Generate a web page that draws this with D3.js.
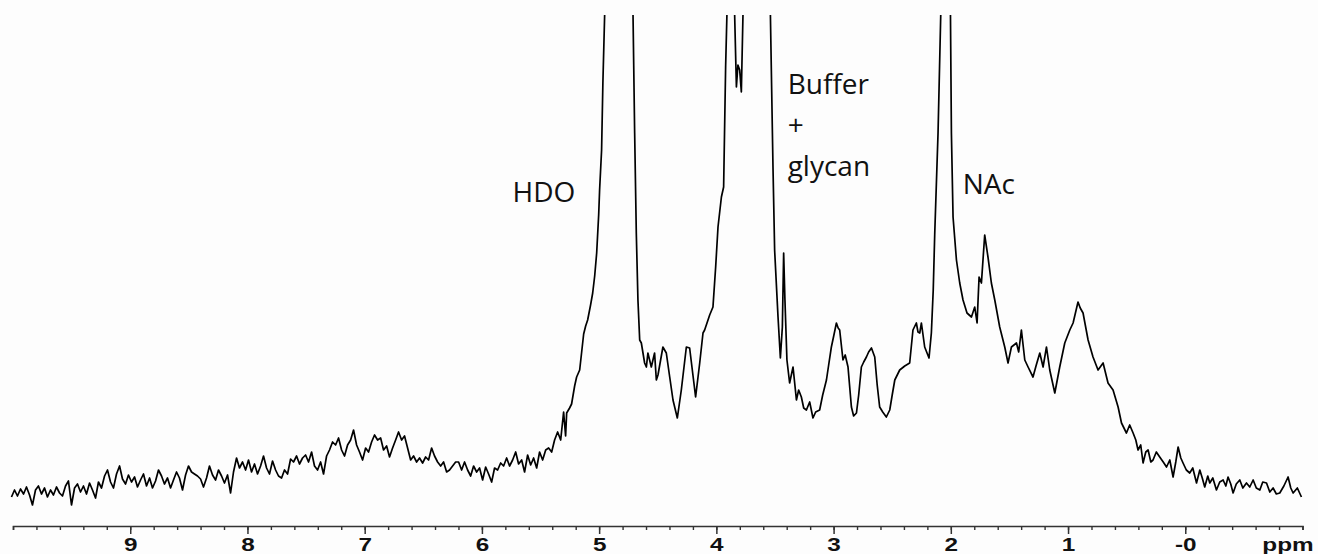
<!DOCTYPE html>
<html>
<head>
<meta charset="utf-8">
<script src="https://cdn.jsdelivr.net/npm/d3@7"></script>
<style>
  body { margin: 0; background: #fdfdfd; }
  svg { display: block; }
</style>
</head>
<body>
<div class="spectrum"></div>
<script>
// 1H NMR spectrum, chemical shift (ppm) vs intensity (arbitrary units)
var ppm = [
  10.013, 9.987, 9.962, 9.936, 9.910, 9.885, 9.859, 9.834, 9.808, 9.783,
  9.757, 9.731, 9.706, 9.680, 9.655, 9.629, 9.603, 9.578, 9.552, 9.527,
  9.501, 9.475, 9.450, 9.424, 9.399, 9.373, 9.347, 9.322, 9.296, 9.271,
  9.245, 9.219, 9.194, 9.168, 9.143, 9.117, 9.091, 9.066, 9.040, 9.015,
  8.989, 8.963, 8.938, 8.912, 8.887, 8.861, 8.835, 8.810, 8.784, 8.759,
  8.733, 8.708, 8.682, 8.656, 8.631, 8.605, 8.580, 8.554, 8.528, 8.503,
  8.477, 8.452, 8.426, 8.400, 8.375, 8.349, 8.324, 8.298, 8.272, 8.247,
  8.221, 8.196, 8.170, 8.144, 8.119, 8.093, 8.068, 8.042, 8.016, 7.991,
  7.965, 7.940, 7.914, 7.888, 7.863, 7.837, 7.812, 7.786, 7.760, 7.735,
  7.709, 7.684, 7.658, 7.632, 7.607, 7.581, 7.556, 7.530, 7.504, 7.479,
  7.453, 7.428, 7.402, 7.376, 7.351, 7.325, 7.300, 7.274, 7.248, 7.223,
  7.197, 7.172, 7.146, 7.120, 7.095, 7.069, 7.044, 7.018, 6.992, 6.967,
  6.941, 6.916, 6.890, 6.864, 6.839, 6.813, 6.788, 6.762, 6.736, 6.711,
  6.685, 6.660, 6.634, 6.608, 6.583, 6.557, 6.532, 6.506, 6.480, 6.455,
  6.429, 6.404, 6.378, 6.352, 6.327, 6.301, 6.276, 6.250, 6.224, 6.199,
  6.173, 6.148, 6.122, 6.096, 6.071, 6.045, 6.020, 5.994, 5.968, 5.943,
  5.917, 5.892, 5.866, 5.840, 5.815, 5.789, 5.764, 5.738, 5.712, 5.687,
  5.661, 5.636, 5.610, 5.584, 5.559, 5.533, 5.508, 5.482, 5.456, 5.431,
  5.405, 5.380, 5.354, 5.328, 5.303, 5.286, 5.277, 5.252, 5.235, 5.209,
  5.192, 5.166, 5.149, 5.132, 5.115, 5.098, 5.073, 5.055, 5.038, 5.021,
  5.004, 4.996, 4.979, 4.968, 4.953, 4.894, 4.834, 4.775, 4.712, 4.697,
  4.683, 4.669, 4.654, 4.640, 4.612, 4.597, 4.584, 4.555, 4.527, 4.512,
  4.498, 4.456, 4.427, 4.398, 4.370, 4.333, 4.299, 4.256, 4.228, 4.177,
  4.142, 4.114, 4.100, 4.057, 4.029, 4.006, 3.986, 3.957, 3.938, 3.921,
  3.910, 3.887, 3.853, 3.844, 3.829, 3.816, 3.801, 3.787, 3.773, 3.716,
  3.656, 3.596, 3.539, 3.517, 3.503, 3.474, 3.454, 3.437, 3.426, 3.415,
  3.398, 3.375, 3.346, 3.317, 3.298, 3.275, 3.255, 3.232, 3.204, 3.176,
  3.153, 3.119, 3.093, 3.061, 3.042, 3.019, 2.999, 2.976, 2.961, 2.948,
  2.920, 2.901, 2.877, 2.848, 2.829, 2.805, 2.786, 2.763, 2.743, 2.720,
  2.701, 2.677, 2.649, 2.628, 2.607, 2.581, 2.550, 2.521, 2.500, 2.478,
  2.457, 2.436, 2.393, 2.351, 2.323, 2.294, 2.280, 2.265, 2.251, 2.223,
  2.186, 2.166, 2.150, 2.137, 2.109, 2.086, 2.064, 2.043, 2.022, 2.003,
  1.995, 1.981, 1.952, 1.924, 1.896, 1.862, 1.824, 1.796, 1.776, 1.759,
  1.739, 1.711, 1.683, 1.654, 1.625, 1.583, 1.540, 1.512, 1.483, 1.440,
  1.421, 1.398, 1.369, 1.341, 1.299, 1.271, 1.241, 1.213, 1.184, 1.156,
  1.113, 1.071, 1.028, 0.985, 0.957, 0.915, 0.896, 0.872, 0.829, 0.787,
  0.744, 0.701, 0.659, 0.616, 0.573, 0.544, 0.502, 0.474, 0.445, 0.422,
  0.403, 0.380, 0.360, 0.337, 0.317, 0.294, 0.275, 0.247, 0.218, 0.188,
  0.160, 0.132, 0.104, 0.081, 0.061, 0.038, 0.019, -0.009, -0.038, -0.064,
  -0.096, -0.124, -0.145, -0.166, -0.192, -0.209, -0.235, -0.266, -0.294, -0.323,
  -0.346, -0.365, -0.388, -0.408, -0.435, -0.465, -0.491, -0.522, -0.550, -0.579,
  -0.606, -0.636, -0.661, -0.693, -0.721, -0.749, -0.777, -0.806, -0.841, -0.877,
  -0.900, -0.920, -0.956, -0.991
];

var intensity = [
  29, 36, 30, 37, 32, 39, 31, 21, 36, 40,
  32, 38, 29, 36, 31, 39, 33, 30, 40, 45,
  21, 38, 42, 34, 40, 32, 43, 36, 28, 44,
  38, 50, 56, 44, 38, 52, 60, 47, 42, 51,
  44, 49, 39, 46, 52, 40, 48, 38, 45, 56,
  50, 42, 48, 38, 46, 54, 48, 36, 51, 60,
  54, 52, 50, 47, 39, 48, 60, 51, 46, 56,
  50, 43, 51, 33, 54, 68, 58, 64, 56, 66,
  54, 62, 52, 60, 70, 58, 52, 65, 56, 50,
  48, 56, 52, 67, 64, 70, 62, 68, 71, 64,
  74, 60, 56, 64, 52, 70, 76, 84, 81, 88,
  76, 70, 81, 86, 96, 81, 74, 66, 78, 74,
  84, 91, 86, 88, 76, 80, 69, 78, 86, 94,
  86, 90, 78, 66, 70, 64, 68, 63, 69, 66,
  78, 70, 64, 60, 64, 54, 56, 60, 64, 64,
  56, 64, 56, 50, 60, 54, 58, 46, 59, 52,
  44, 58, 56, 63, 60, 68, 60, 66, 74, 62,
  66, 54, 71, 61, 68, 58, 74, 66, 76, 78,
  74, 86, 94, 86, 114, 90, 113, 118, 122, 140,
  149, 156, 174, 192, 200, 206, 221, 233, 250, 273,
  311, 336, 376, 443, 511, 1200, 4000, 1200, 520, 393,
  293, 226, 186, 183, 163, 159, 173, 159, 173, 146,
  151, 179, 173, 149, 126, 108, 136, 179, 178, 129,
  163, 193, 196, 211, 219, 259, 299, 329, 339, 459,
  511, 900, 560, 511, 439, 461, 456, 434, 511, 1500,
  2500, 1500, 511, 359, 276, 209, 168, 199, 273, 226,
  166, 143, 159, 126, 136, 129, 118, 116, 124, 108,
  114, 116, 131, 146, 161, 179, 190, 203, 198, 196,
  166, 171, 159, 119, 110, 113, 131, 159, 164, 169,
  174, 178, 169, 141, 119, 114, 109, 116, 131, 146,
  151, 156, 160, 163, 196, 203, 194, 193, 203, 179,
  168, 193, 236, 293, 393, 511, 1500, 3000, 1500, 511,
  393, 309, 266, 243, 226, 213, 209, 219, 203, 249,
  243, 291, 269, 243, 226, 199, 179, 163, 179, 183,
  174, 196, 166, 159, 149, 161, 173, 159, 179, 156,
  133, 159, 183, 196, 203, 224, 218, 213, 186, 169,
  156, 163, 143, 136, 119, 103, 93, 101, 93, 86,
  76, 81, 63, 74, 76, 64, 66, 74, 69, 64,
  59, 66, 49, 64, 79, 68, 63, 56, 53, 58,
  43, 56, 48, 39, 50, 43, 48, 36, 44, 46,
  40, 49, 42, 33, 42, 46, 38, 43, 39, 46,
  38, 36, 44, 43, 34, 38, 32, 33, 40, 49,
  38, 33, 38, 29
];

var majorTicks = [9, 8, 7, 6, 5, 4, 3, 2, 1, 0];
var majorLabels = ["9", "8", "7", "6", "5", "4", "3", "2", "1", "-0"];
var peakNames = [["HDO"], ["Buffer", "+", "glycan"], ["NAc"]];
var axisUnit = "ppm";

var W = 1318, H = 554;
var data = ppm.map(function (p, i) { return { p: p, v: intensity[i] }; });

var svg = d3.select(".spectrum").append("svg")
    .attr("width", W)
    .attr("height", H);

// scales: ppm runs right to left
var x = d3.scaleLinear().domain([10, -1]).range([13, 1302.5]);
var y = d3.scaleLinear().domain([0, 511]).range([526, 15]);

svg.append("clipPath").attr("id", "clip")
  .append("rect")
    .attr("x", 0).attr("y", 15)
    .attr("width", W).attr("height", 520);

var line = d3.line()
    .x(function (d) { return x(d.p); })
    .y(function (d) { return y(d.v); });

svg.append("path")
    .datum(data)
    .attr("clip-path", "url(#clip)")
    .attr("d", line)
    .attr("fill", "none")
    .attr("stroke", "#000")
    .attr("stroke-width", 1.7)
    .attr("stroke-linejoin", "round");

// minor ticks every 0.2 ppm
var minor = d3.range(-1, 10.001, 0.2);
var minorAxis = d3.axisBottom(x)
    .tickValues(minor)
    .tickSize(4)
    .tickFormat("");
svg.append("g")
    .attr("transform", "translate(0,526)")
    .call(minorAxis)
    .call(function (g) {
        g.select(".domain").attr("stroke", "#333").attr("stroke-width", 1.6);
        g.selectAll(".tick line").attr("stroke", "#333").attr("stroke-width", 1.4);
    });

var majorAxis = d3.axisBottom(x)
    .tickValues(majorTicks)
    .tickSize(8)
    .tickFormat(function (d, i) { return majorLabels[i]; });
svg.append("g")
    .attr("transform", "translate(0,526)")
    .call(majorAxis)
    .call(function (g) {
        g.select(".domain").remove();
        g.selectAll(".tick line").attr("stroke", "#333").attr("stroke-width", 1.5);
        g.selectAll(".tick text")
            .attr("y", 25)
            .attr("dy", null)
            .attr("transform", "scale(1.35,1)")
            .attr("fill", "#111")
            .style("font-family", "'Liberation Sans', Arial, sans-serif")
            .style("font-weight", "bold")
            .style("font-size", "18px");
    });

svg.append("text")
    .attr("transform", "translate(1288,551) scale(1.35,1)")
    .attr("text-anchor", "middle")
    .attr("fill", "#111")
    .style("font-family", "'Liberation Sans', Arial, sans-serif")
    .style("font-weight", "bold")
    .style("font-size", "18px")
    .text(axisUnit);

// peak annotations
var labelAt = [[5.738, 202], [3.392, 94], [1.898, 194]];
peakNames.forEach(function (lines, i) {
    var t = svg.append("text")
        .attr("x", x(labelAt[i][0]))
        .attr("y", labelAt[i][1])
        .attr("fill", "#111")
        .style("font-family", "'Open Sans', sans-serif")
        .style("font-size", "28px");
    lines.forEach(function (s, j) {
        t.append("tspan")
            .attr("x", x(labelAt[i][0]))
            .attr("dy", j === 0 ? 0 : 41)
            .text(s);
    });
});
</script>
</body>
</html>
